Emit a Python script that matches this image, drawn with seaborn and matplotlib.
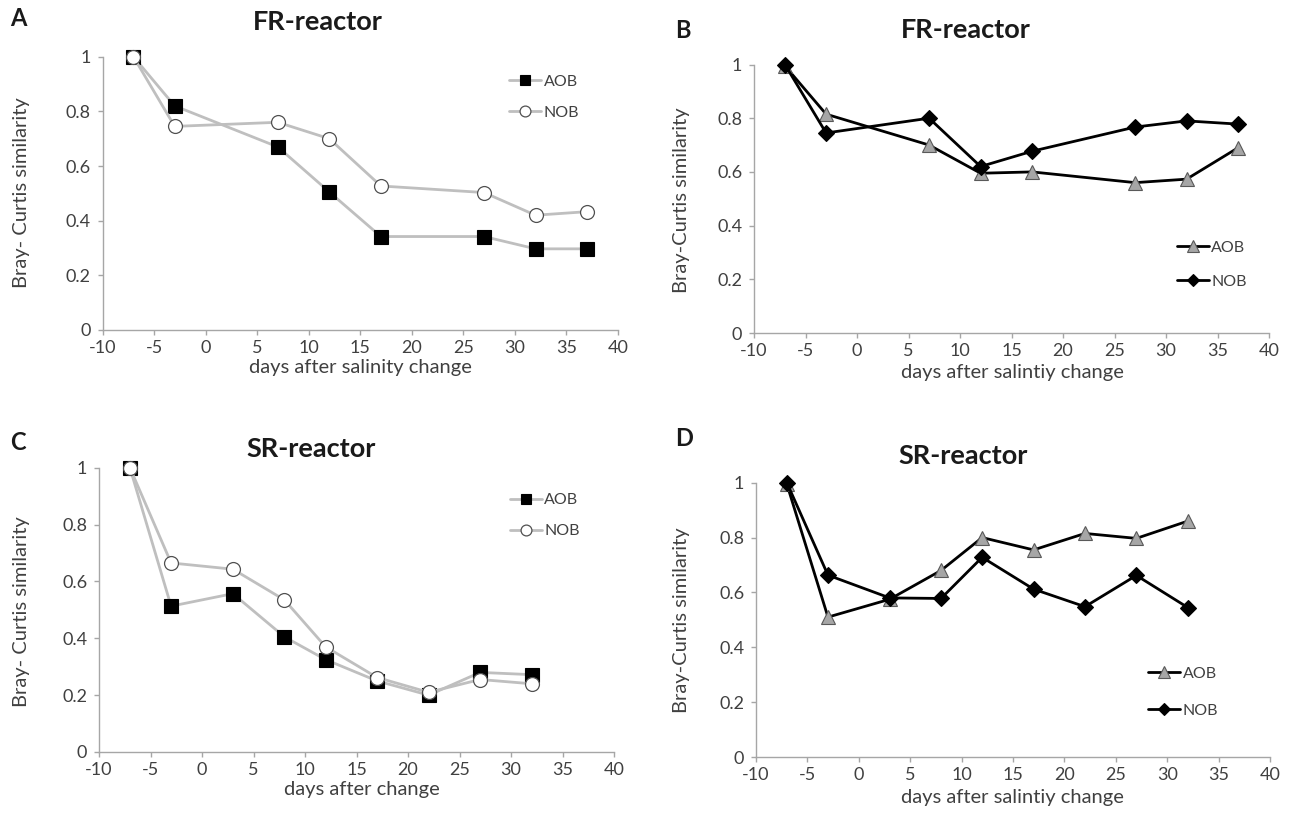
import matplotlib
matplotlib.use("Agg")
import matplotlib.pyplot as plt
import seaborn as sns
import numpy as np

# ---------------- data ----------------
days_FR = [-7, -3, 7, 12, 17, 27, 32, 37]
days_SR = [-7, -3, 3, 8, 12, 17, 22, 27, 32]

A_aob = [1.0, 0.82, 0.67, 0.505, 0.342, 0.342, 0.297, 0.297]
A_nob = [1.0, 0.745, 0.76, 0.70, 0.527, 0.503, 0.42, 0.433]

B_aob = [0.995, 0.815, 0.70, 0.595, 0.60, 0.56, 0.573, 0.69]
B_nob = [1.0, 0.745, 0.80, 0.62, 0.677, 0.767, 0.79, 0.778]

C_aob = [1.0, 0.513, 0.557, 0.405, 0.325, 0.25, 0.20, 0.28, 0.272]
C_nob = [1.0, 0.665, 0.643, 0.535, 0.37, 0.262, 0.21, 0.255, 0.24]

D_aob = [0.995, 0.51, 0.575, 0.68, 0.80, 0.755, 0.815, 0.797, 0.86]
D_nob = [1.0, 0.663, 0.58, 0.578, 0.728, 0.612, 0.548, 0.662, 0.545]

series_names = ["AOB", "NOB"]
x_ticks = [-10, -5, 0, 5, 10, 15, 20, 25, 30, 35, 40]
x_tick_labels = ["-10", "-5", "0", "5", "10", "15", "20", "25", "30", "35", "40"]
y_ticks = [0, 0.2, 0.4, 0.6, 0.8, 1.0]
y_tick_labels = ["0", "0.2", "0.4", "0.6", "0.8", "1"]

titles = ["FR-reactor", "FR-reactor", "SR-reactor", "SR-reactor"]
letters = ["A", "B", "C", "D"]
ylabels = ["Bray- Curtis similarity", "Bray-Curtis similarity",
           "Bray- Curtis similarity", "Bray-Curtis similarity"]
xlabels = ["days after salinity change", "days after salintiy change",
           "days after change", "days after salintiy change"]

# ---------------- style ----------------
sns.set_theme(style="white")
plt.rcParams["font.family"] = ["Lato", "DejaVu Sans"]

W, H = 1292, 817
fig = plt.figure(figsize=(W / 100, H / 100), dpi=100)

def px_rect(l, t, r, b):
    return [l / W, 1 - b / H, (r - l) / W, (b - t) / H]

axes_px = [
    (102.5, 56.7, 618, 330),
    (754, 64.5, 1269, 333),
    (99, 467.7, 614, 752),
    (756, 482.7, 1270, 757),
]

SPINE = "#A6A6A6"
TXT = "#404040"
LGREY = "#BFBFBF"
LEG_FS = 11.5

def style_axes(ax):
    ax.set_xlim(-10, 40)
    ax.set_ylim(0, 1)
    ax.set_xticks(x_ticks)
    ax.set_xticklabels(x_tick_labels)
    ax.set_yticks(y_ticks)
    ax.set_yticklabels(y_tick_labels)
    for s in ["top", "right"]:
        ax.spines[s].set_visible(False)
    for s in ["left", "bottom"]:
        ax.spines[s].set_color(SPINE)
        ax.spines[s].set_linewidth(1.0)
    ax.tick_params(axis="both", which="major", direction="out", length=3.5,
                   width=1.0, color=SPINE, labelcolor=TXT, labelsize=13,
                   left=True, bottom=True)
    ax.tick_params(axis="y", pad=5)
    ax.tick_params(axis="x", pad=4)
    ax.set_xlabel("")
    ax.set_ylabel("")
    ax.grid(False)

def make_legend(ax, leg_anchor, lspace):
    leg = ax.legend(loc="upper left", bbox_to_anchor=leg_anchor, frameon=False,
                    fontsize=LEG_FS, handlelength=2.0, handletextpad=0.15,
                    labelspacing=lspace, borderpad=0, borderaxespad=0,
                    markerscale=0.78)
    for t in leg.get_texts():
        t.set_color(TXT)

def grey_panel(ax, days, aob, nob, leg_anchor, lspace):
    sns.lineplot(x=days, y=aob, ax=ax, color=LGREY, linewidth=2.0,
                 marker="s", markersize=10, markerfacecolor="black",
                 markeredgecolor="black", markeredgewidth=0.8,
                 label=series_names[0], clip_on=False, zorder=3)
    sns.lineplot(x=days, y=nob, ax=ax, color=LGREY, linewidth=2.0,
                 marker="o", markersize=10, markerfacecolor="white",
                 markeredgecolor="#505050", markeredgewidth=0.9,
                 label=series_names[1], clip_on=False, zorder=4)
    make_legend(ax, leg_anchor, lspace)

def black_panel(ax, days, aob, nob, leg_anchor, lspace):
    sns.lineplot(x=days, y=aob, ax=ax, color="black", linewidth=2.0,
                 marker="^", markersize=10.5, markerfacecolor="#A6A6A6",
                 markeredgecolor="#595959", markeredgewidth=0.8,
                 label=series_names[0], clip_on=False, zorder=3)
    sns.lineplot(x=days, y=nob, ax=ax, color="black", linewidth=2.0,
                 marker="D", markersize=8, markerfacecolor="black",
                 markeredgecolor="black", markeredgewidth=0.8,
                 label=series_names[1], clip_on=False, zorder=4)
    make_legend(ax, leg_anchor, lspace)

axs = [fig.add_axes(px_rect(*r)) for r in axes_px]

grey_panel(axs[0], days_FR, A_aob, A_nob, (0.789, 0.935), 1.05)
black_panel(axs[1], days_FR, B_aob, B_nob, (0.821, 0.345), 1.25)
grey_panel(axs[2], days_SR, C_aob, C_nob, (0.798, 0.91), 1.05)
black_panel(axs[3], days_SR, D_aob, D_nob, (0.763, 0.33), 1.45)

for ax in axs:
    style_axes(ax)

# ---------------- text (pixel positions) ----------------
def ftext(x, y, s, **kw):
    fig.text(x / W, 1 - y / H, s, **kw)

title_pos = [(318, 22), (966, 30), (311, 449), (963, 456)]
letter_pos = [(18, 19), (683, 31), (18, 443), (684, 439)]
ylabel_pos = [(22, 193), (681, 200), (22, 612), (681, 620)]
xlabel_pos = [(360, 368), (1012, 373), (362, 789), (1012, 798)]

for i in range(4):
    ftext(*title_pos[i], titles[i], ha="center", va="center",
          fontsize=19.5, fontweight="bold", color="#1a1a1a")
    ftext(*letter_pos[i], letters[i], ha="center", va="center",
          fontsize=17, fontweight="bold", color="#1a1a1a")
    ftext(*ylabel_pos[i], ylabels[i], ha="center", va="center",
          rotation=90, fontsize=14.5, color=TXT)
    ftext(*xlabel_pos[i], xlabels[i], ha="center", va="center",
          fontsize=14.5, color=TXT)

fig.savefig("out.png", dpi=100)
